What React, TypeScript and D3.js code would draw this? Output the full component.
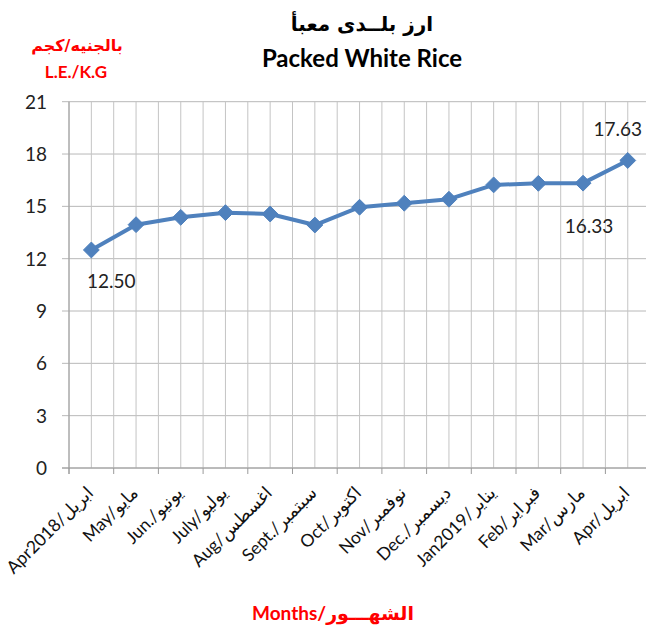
import React from "react";
import * as d3 from "d3";

const categories = [
  "Apr2018/ابريل",
  "May/مايو",
  "Jun./يونيو",
  "July/يوليو",
  "Aug/اغسطس",
  "Sept./سبتمبر",
  "Oct/اكتوبر",
  "Nov/نوفمبر",
  "Dec./ديسمبر",
  "Jan2019/يناير",
  "Feb/فبراير",
  "Mar/مارس",
  "Apr/ابريل",
];
const prices = [12.5, 13.95, 14.37, 14.64, 14.56, 13.93, 14.95, 15.18, 15.41, 16.23, 16.32, 16.33, 17.63];
const yTicks = [0, 3, 6, 9, 12, 15, 18, 21];
const labelled = [
  { i: 0, text: "12.50", dx: 20, dy: 38 },
  { i: 11, text: "16.33", dx: 6, dy: 50 },
  { i: 12, text: "17.63", dx: -10, dy: -24 },
];
const titleAr = "ارز بلــدى معبأ";
const titleEn = "Packed White Rice";
const unitAr = "بالجنيه/كجم";
const unitEn = "L.E./K.G";
const xTitle = "Months/الشهـــور";

const W = 646;
const H = 632;
const FONT = "Lato, 'DejaVu Sans', sans-serif";

export default function App() {
  const left = 69;
  const step = 44.7;
  const x = d3
    .scaleBand<string>()
    .domain(categories)
    .range([left, left + step * categories.length])
    .padding(0);
  const y = d3.scaleLinear().domain([0, 21]).range([468, 101.7]);
  const bw = x.bandwidth();
  const cx = (i: number) => (x(categories[i]) as number) + bw / 2;
  const right = left + step * categories.length;

  const line = d3
    .line<number>()
    .x((_, i) => cx(i))
    .y((d) => y(d));

  const vLines = d3.range(0, categories.length * 2 + 1).map((k) => left + (k * bw) / 2);

  return (
    <svg
      width={W}
      height={H}
      style={{ position: "absolute", left: 0, top: 0, background: "#fff" }}
      fontFamily={FONT}
    >
      <rect width={W} height={H} fill="#fff" />
      {/* horizontal gridlines */}
      {yTicks.map((t) => (
        <line key={"h" + t} x1={62} x2={right} y1={y(t)} y2={y(t)} stroke="#b8b8b8" strokeWidth={1} />
      ))}
      {/* vertical gridlines */}
      {vLines.map((vx, k) => (
        <line key={"v" + k} x1={vx} x2={vx} y1={y(21)} y2={y(0)} stroke="#c4c4c4" strokeWidth={1} />
      ))}
      {/* axes */}
      <line x1={left} x2={left} y1={y(21)} y2={y(0) + 6} stroke="#9a9a9a" strokeWidth={1} />
      <line x1={62} x2={right} y1={y(0)} y2={y(0)} stroke="#9a9a9a" strokeWidth={1} />
      {categories.map((c, i) => (
        <line
          key={"t" + i}
          x1={x(c) as number}
          x2={x(c) as number}
          y1={y(0)}
          y2={y(0) + 6}
          stroke="#9a9a9a"
        />
      ))}
      {/* y tick labels */}
      {yTicks.map((t) => (
        <text key={"yl" + t} x={47} y={y(t)} dy="0.36em" textAnchor="end" fontSize={19} fill="#222">
          {t}
        </text>
      ))}
      {/* x tick labels */}
      {categories.map((c, i) => (
        <text
          key={"xl" + i}
          transform={`translate(${cx(i) + 3},${y(0) + 26}) rotate(-45)`}
          textAnchor="end"
          fontSize={17.5}
          fill="#111"
          direction="ltr"
        >
          {c}
        </text>
      ))}
      {/* series */}
      <path d={line(prices) as string} fill="none" stroke="#4F81BD" strokeWidth={4} strokeLinejoin="round" />
      {prices.map((p, i) => (
        <path
          key={"m" + i}
          d={d3.symbol().type(d3.symbolDiamond2).size(160)() as string}
          transform={`translate(${cx(i)},${y(p)})`}
          fill="#4F81BD"
          stroke="#4F81BD"
          strokeWidth={1}
        />
      ))}
      {/* data labels */}
      {labelled.map((l) => (
        <text
          key={"dl" + l.i}
          x={cx(l.i) + l.dx}
          y={y(prices[l.i]) + l.dy}
          textAnchor="middle"
          fontSize={19}
          fill="#222"
        >
          {l.text}
        </text>
      ))}
      {/* titles */}
      <text x={362} y={31} textAnchor="middle" fontSize={20} fontWeight="bold" fill="#000" fontFamily="'DejaVu Sans', sans-serif">
        {titleAr}
      </text>
      <text x={362} y={67} textAnchor="middle" fontSize={24} fontWeight="bold" fill="#000">
        {titleEn}
      </text>
      <text x={77} y={51} textAnchor="middle" fontSize={16} fontWeight="bold" fill="#ff0000" fontFamily="'DejaVu Sans', sans-serif">
        {unitAr}
      </text>
      <text x={76} y={78} textAnchor="middle" fontSize={17} fontWeight="bold" fill="#ff0000">
        {unitEn}
      </text>
      <text x={333} y={620} textAnchor="middle" fontSize={19} fontWeight="bold" fill="#ff0000" direction="ltr">
        {xTitle}
      </text>
    </svg>
  );
}
